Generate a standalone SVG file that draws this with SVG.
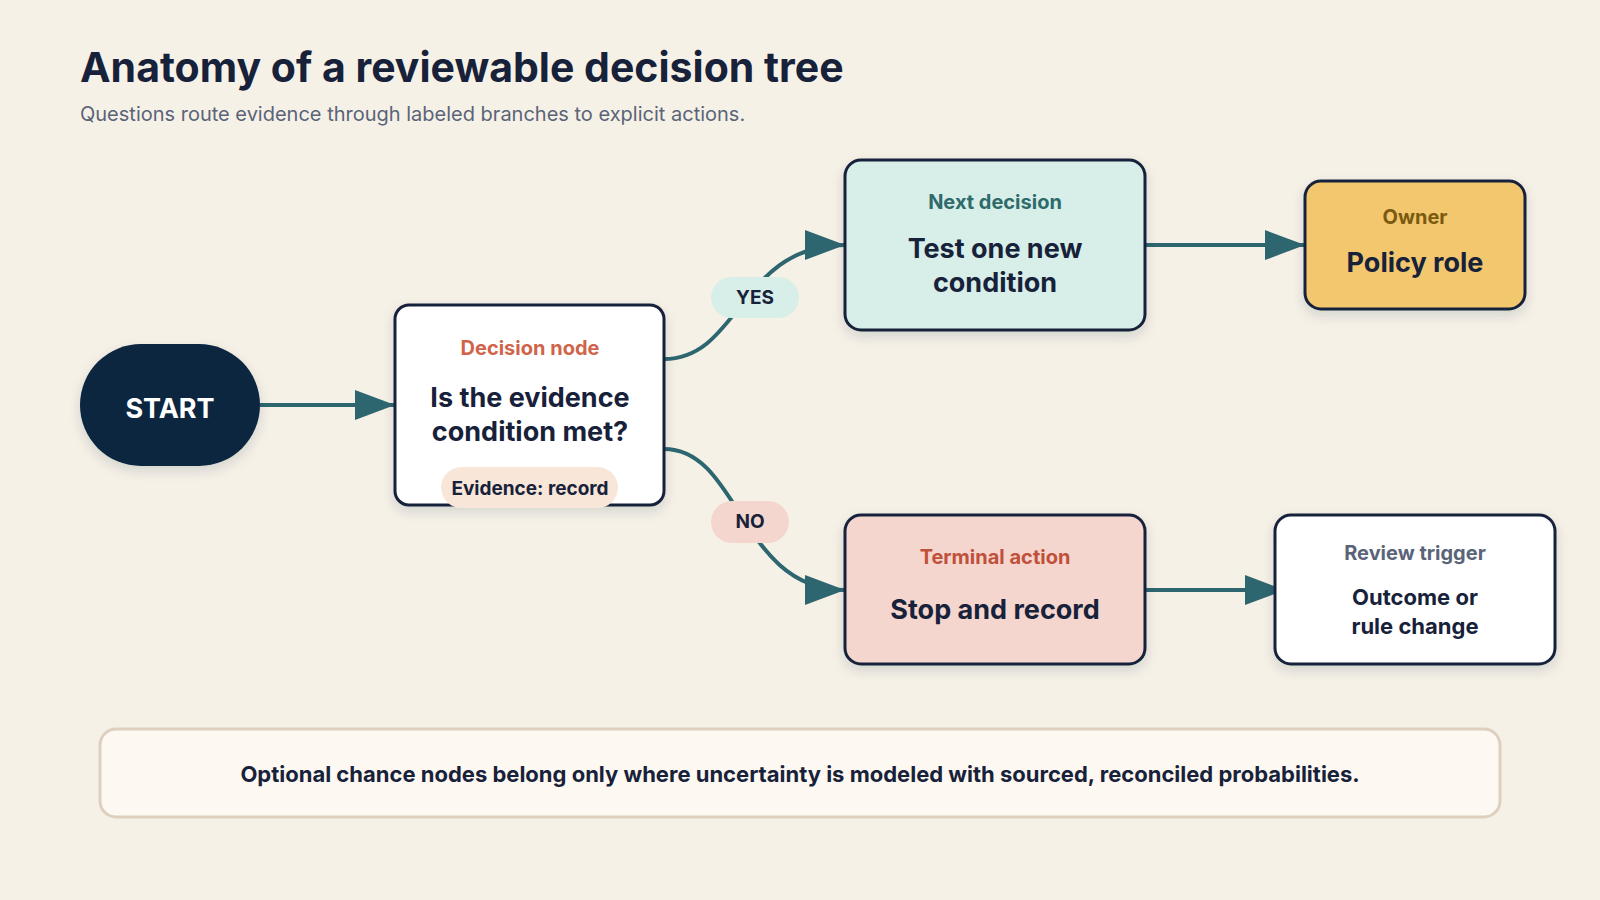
<svg xmlns="http://www.w3.org/2000/svg" width="1600" height="900" viewBox="0 0 1600 900">
<defs>
<marker id="ah" markerUnits="userSpaceOnUse" markerWidth="40" markerHeight="30" refX="40" refY="15" orient="auto"><path d="M0,0 L40,15 L0,30 Z" fill="#2e6670"/></marker>
<filter id="sh" x="-20%" y="-20%" width="140%" height="150%"><feDropShadow dx="0" dy="5" stdDeviation="6" flood-color="#1a2540" flood-opacity="0.15"/></filter>
<style>
text{font-family:"Inter","Liberation Sans",Arial,sans-serif;}
.box{stroke:#17223a;stroke-width:3;filter:url(#sh);}
.lab{font-size:20px;font-weight:700;text-anchor:middle;}
.main{font-size:27px;font-weight:700;fill:#17223a;text-anchor:middle;}
.con{fill:none;stroke:#2e6670;stroke-width:4;marker-end:url(#ah);}
.pill{font-size:19px;font-weight:700;fill:#17223a;text-anchor:middle;}
</style>
</defs>
<rect width="1600" height="900" fill="#f6f1e7"/>
<text x="80" y="82" font-size="41" font-weight="700" fill="#17223a">Anatomy of a reviewable decision tree</text>
<text x="80" y="121" font-size="20" fill="#5a6478">Questions route evidence through labeled branches to explicit actions.</text>
<g id="connectors">
<path class="con" d="M260,405 L395,405"/>
<path class="con" d="M664,359 C740,359 740,245 845,245"/>
<path class="con" d="M664,449 C740,449 740,590 845,590"/>
<path class="con" d="M1145,245 L1305,245"/>
<path class="con" d="M1145,590 L1285,590"/>
</g>
<g id="start"><rect x="80" y="344" width="180" height="122" rx="61" fill="#0f2640" filter="url(#sh)"/><text x="170" y="418" font-size="27" font-weight="700" fill="#fff" text-anchor="middle">START</text></g>
<g id="decision"><rect class="box" x="395" y="305" width="269" height="200" rx="14" fill="#fff"/>
<text class="lab" x="530" y="355" fill="#d0644a">Decision node</text>
<text class="main" x="530" y="407">Is the evidence</text><text class="main" x="530" y="441">condition met?</text>
<rect x="441" y="467" width="177" height="41" rx="20.5" fill="#f8e6d8"/><text class="pill" x="530" y="495">Evidence: record</text></g>
<g id="yes"><rect x="711" y="277" width="88" height="41" rx="20.5" fill="#d8eee8"/><text class="pill" x="755" y="304">YES</text></g>
<g id="no"><rect x="711" y="501" width="78" height="42" rx="21" fill="#f4d6cf"/><text class="pill" x="750" y="528">NO</text></g>
<g id="next"><rect class="box" x="845" y="160" width="300" height="170" rx="16" fill="#d8eee8"/>
<text class="lab" x="995" y="209" fill="#2e6b6b">Next decision</text>
<text class="main" x="995" y="258">Test one new</text><text class="main" x="995" y="292">condition</text></g>
<g id="owner"><rect class="box" x="1305" y="181" width="220" height="128" rx="16" fill="#f2c76e"/>
<text class="lab" x="1415" y="224" fill="#7a5a10">Owner</text>
<text class="main" x="1415" y="272">Policy role</text></g>
<g id="terminal"><rect class="box" x="845" y="515" width="300" height="149" rx="16" fill="#f4d6cf"/>
<text class="lab" x="995" y="564" fill="#c0503a">Terminal action</text>
<text class="main" x="995" y="619">Stop and record</text></g>
<g id="review"><rect class="box" x="1275" y="515" width="280" height="149" rx="16" fill="#fff"/>
<text class="lab" x="1415" y="560" fill="#5a6478">Review trigger</text>
<text x="1415" y="605" font-size="22" font-weight="700" fill="#17223a" text-anchor="middle">Outcome or</text>
<text x="1415" y="634" font-size="22" font-weight="700" fill="#17223a" text-anchor="middle">rule change</text></g>
<g id="footer"><rect x="100" y="729" width="1400" height="88" rx="16" fill="#fdf8f1" stroke="#ddd0bf" stroke-width="3"/>
<text x="800" y="782" font-size="22" font-weight="700" fill="#17223a" text-anchor="middle">Optional chance nodes belong only where uncertainty is modeled with sourced, reconciled probabilities.</text></g>
</svg>
